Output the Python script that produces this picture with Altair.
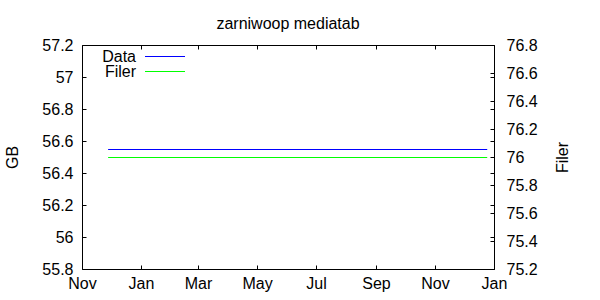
import altair as alt
import pandas as pd

chart_title = "zarniwoop mediatab"
series_names = ["Data", "Filer"]
series_colors = ["#0000ff", "#00ff00"]
dates = ["2010-11-28", "2011-12-25"]
data_gb = [56.55, 56.55]
filer_vals = [76.0, 76.0]
gb_ticks = [55.8, 56.0, 56.2, 56.4, 56.6, 56.8, 57.0, 57.2]
filer_ticks = [75.2, 75.4, 75.6, 75.8, 76.0, 76.2, 76.4, 76.6, 76.8]
month_ticks = [(2010, 11), (2011, 1), (2011, 3), (2011, 5), (2011, 7), (2011, 9), (2011, 11), (2012, 1)]

FONT = "Liberation Sans"
FS = 16

x_domain = [alt.DateTime(year=2010, month=11, date=1, utc=True),
            alt.DateTime(year=2012, month=1, date=1, utc=True)]
x_values = [alt.DateTime(year=y, month=m, date=1, utc=True) for y, m in month_ticks]

common = dict(domain=False, grid=False, ticks=True, tickSize=4, tickColor="black",
              tickWidth=1, offset=-4, labelFont=FONT, labelFontSize=FS,
              labelColor="black", labelFlush=False, labelOverlap=False,
              titleFont=FONT, titleFontSize=FS, titleFontWeight="normal",
              titleColor="black")

df_gb = pd.DataFrame({"date": dates, "value": data_gb})
df_filer = pd.DataFrame({"date": dates, "value": filer_vals})

xscale = alt.Scale(type="utc", domain=x_domain)
gb_scale = alt.Scale(domain=[gb_ticks[0], gb_ticks[-1]], nice=False, zero=False)
filer_scale = alt.Scale(domain=[filer_ticks[0], filer_ticks[-1]], nice=False, zero=False)

gb_line = alt.Chart(df_gb).mark_line(color=series_colors[0], strokeWidth=1, yOffset=0.5).encode(
    x=alt.X("date:T", scale=xscale,
            axis=alt.Axis(orient="bottom", values=x_values,
                          labelExpr="utcFormat(datum.value, '%b')",
                          labelPadding=6, title=None, **common)),
    y=alt.Y("value:Q", scale=gb_scale,
            axis=alt.Axis(orient="left", values=gb_ticks, format="~g",
                          labelPadding=9, title="GB", titleAngle=270,
                          titleBaseline="middle", titleX=-74, titleY=112, **common)),
)

gb_mirror = alt.Chart(df_gb).mark_line(strokeOpacity=0).encode(
    x=alt.X("date:T", scale=xscale,
            axis=alt.Axis(orient="top", values=x_values, labels=False, title=None, **common)),
    y=alt.Y("value:Q", scale=gb_scale,
            axis=alt.Axis(orient="right", values=gb_ticks, labels=False, title=None, **common)),
)

inner = alt.layer(gb_line, gb_mirror).resolve_axis(y="independent", x="independent")

filer_line = alt.Chart(df_filer).mark_line(color=series_colors[1], strokeWidth=1, yOffset=0.5).encode(
    x=alt.X("date:T", scale=xscale, axis=None),
    y=alt.Y("value:Q", scale=filer_scale,
            axis=alt.Axis(orient="right", values=filer_ticks, format="~g",
                          labelPadding=12, title="Filer", titleAngle=270,
                          titleBaseline="middle", titleX=72, titleY=112, **common)),
)

legend_layers = []
for i, ypos in enumerate([11.5, 26.5]):
    name_df = pd.DataFrame({"name": [series_names[i]]})
    legend_layers.append(
        alt.Chart(name_df).mark_text(align="right", baseline="middle", font=FONT,
                                     fontSize=FS, color="black").encode(
            text="name:N", x=alt.value(54), y=alt.value(ypos)))
    legend_layers.append(
        alt.Chart(name_df).mark_rule(color=series_colors[i], strokeWidth=1).encode(
            x=alt.value(63), x2=alt.value(103), y=alt.value(ypos)))

chart = alt.layer(inner, filer_line, *legend_layers).resolve_scale(
    y="independent").resolve_axis(y="independent", x="independent").properties(
    width=412, height=224,
    autosize=alt.AutoSizeParams(type="none"),
    padding={"left": 82, "top": 45, "right": 106, "bottom": 31},
    title=alt.TitleParams(text=chart_title, font=FONT, fontSize=FS, fontWeight="normal",
                          color="black", anchor="middle", baseline="alphabetic",
                          offset=18, dy=26),
).configure_view(stroke="black", strokeWidth=1)

chart.save("out.html", embed_options={"renderer": "svg", "actions": False})
